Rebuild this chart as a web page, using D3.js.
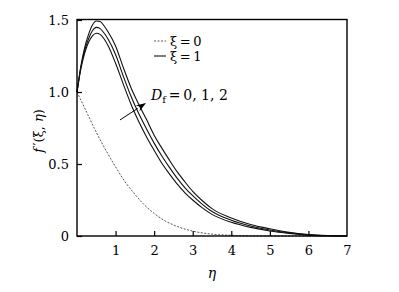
<!DOCTYPE html>
<html><head><meta charset="utf-8">
<script src="https://cdn.jsdelivr.net/npm/d3@7"></script>
<style>body{margin:0;background:#fff}svg{display:block}svg text{font-family:"DejaVu Serif","Liberation Serif","Times New Roman",serif;fill:#000}</style>
</head><body><svg id="c" width="399" height="292"></svg>
<script>
const eta = [0,0.1,0.2,0.3,0.4,0.5,0.6,0.7,0.8,1.0,1.2,1.4,1.6,1.8,2.0,2.2,2.4,2.6,2.8,3.0,3.25,3.5,4.0,4.5,5.0,5.5,6.0,6.5,7.0];
const xi1_Df0 = [1.0,1.16,1.27,1.345,1.39,1.408,1.40,1.37,1.325,1.20,1.055,0.915,0.795,0.69,0.595,0.505,0.43,0.36,0.30,0.25,0.195,0.15,0.095,0.06,0.035,0.018,0.006,0.002,0];
const xi1_Df1 = [1.0,1.17,1.29,1.37,1.425,1.449,1.44,1.41,1.37,1.26,1.11,0.97,0.85,0.745,0.645,0.555,0.475,0.40,0.335,0.28,0.22,0.17,0.11,0.07,0.042,0.022,0.008,0.002,0];
const xi1_Df2 = [1.0,1.18,1.31,1.40,1.465,1.493,1.49,1.46,1.42,1.32,1.17,1.03,0.915,0.81,0.70,0.61,0.525,0.445,0.375,0.31,0.245,0.19,0.125,0.08,0.05,0.025,0.01,0.003,0];
const etaXi0 = [0,0.25,0.5,0.75,1.0,1.25,1.5,1.75,2.0,2.25,2.5,2.75,3.0,3.5,4.0,4.5,5.0,6.0,7.0];
const xi0 = [1.0,0.86,0.72,0.595,0.48,0.375,0.29,0.215,0.157,0.11,0.077,0.052,0.034,0.013,0.005,0.0015,0.0005,0,0];
const xTicks = [1,2,3,4,5,6,7];
const yTicks = [0,0.5,1.0,1.5];
const yTickLabels = ["0","0.5","1.0","1.5"];
const legendLabels = ["\u03BE\u2009=\u20090","\u03BE\u2009=\u20091"];

const FONT = '"DejaVu Serif","Liberation Serif","Times New Roman",serif';
const svg = d3.select("#c");
const L=77, R=347, T=19.5, B=236;
const x = d3.scaleLinear().domain([0,7]).range([L,R]);
const y = d3.scaleLinear().domain([0,1.5]).range([B,20]);

const line = d3.line().x(d=>x(d[0])).y(d=>y(d[1])).curve(d3.curveMonotoneX);
const g = svg.append("g");
[xi1_Df0, xi1_Df1, xi1_Df2].forEach(s=>{
  g.append("path").attr("d", line(eta.map((e,i)=>[e,s[i]])))
   .attr("fill","none").attr("stroke","#111").attr("stroke-width",1.1);
});
g.append("path").attr("d", line(etaXi0.map((e,i)=>[e,xi0[i]])))
 .attr("fill","none").attr("stroke","#555").attr("stroke-width",1).attr("stroke-dasharray","2,1.5");

// frame
svg.append("rect").attr("x",L).attr("y",T).attr("width",R-L).attr("height",B-T)
  .attr("fill","none").attr("stroke","#000").attr("stroke-width",1.4);

// axes (ticks inward)
const xAxis = d3.axisBottom(x).tickValues(xTicks).tickSize(-5).tickPadding(10).tickFormat(d3.format("d"));
const xa = svg.append("g").attr("transform",`translate(0,${B})`).call(xAxis).attr("font-family",FONT);
xa.select(".domain").remove();
xa.selectAll("line").attr("stroke","#000").attr("stroke-width",1.2).filter(d=>d===7).remove();
xa.selectAll("text").attr("font-size",13).attr("dy","0.71em").style("font-family",FONT);

const yAxis = d3.axisLeft(y).tickValues(yTicks).tickSize(-5).tickPadding(8).tickFormat((d,i)=>yTickLabels[i]);
const ya = svg.append("g").attr("transform",`translate(${L},0)`).call(yAxis).attr("font-family",FONT);
ya.select(".domain").remove();
ya.selectAll("line").attr("stroke","#000").attr("stroke-width",1.2);
ya.selectAll("text").attr("font-size",13).style("font-family",FONT);

// axis labels
svg.append("text").attr("x",212).attr("y",278).attr("text-anchor","middle").style("font-family",FONT)
  .attr("font-size",14).attr("font-style","italic").text("\u03B7");
const yl = svg.append("text").attr("transform","translate(43,131) rotate(-90)").attr("text-anchor","middle").attr("font-size",13).style("font-family",FONT);
yl.append("tspan").attr("font-style","italic").text("f");
yl.append("tspan").text("\u2009\u2032(\u03BE, ");
yl.append("tspan").attr("font-style","italic").text("\u03B7");
yl.append("tspan").text(")");

// legend
const lg = svg.append("g");
lg.append("line").attr("x1",154).attr("x2",166).attr("y1",41).attr("y2",41)
  .attr("stroke","#555").attr("stroke-width",1).attr("stroke-dasharray","2,1.5");
lg.append("line").attr("x1",154).attr("x2",166).attr("y1",56).attr("y2",56)
  .attr("stroke","#111").attr("stroke-width",1.1);
legendLabels.forEach((t,i)=>{
  lg.append("text").attr("x",170).attr("y",46+i*15).attr("font-size",13).style("font-family",FONT).text(t);
});

// annotation arrow
const a0=[1.115,0.806], a1=[1.79,0.924];
const x0=x(a0[0]), y0=y(a0[1]), x1=x(a1[0]), y1=y(a1[1]);
const ang=Math.atan2(y1-y0,x1-x0), hl=10, hw=3.5;
const bx=x1-hl*Math.cos(ang), by=y1-hl*Math.sin(ang);
svg.append("line").attr("x1",x0).attr("y1",y0).attr("x2",bx).attr("y2",by).attr("stroke","#000").attr("stroke-width",1);
svg.append("path").attr("d",`M${x1},${y1}L${bx+hw*Math.sin(ang)},${by-hw*Math.cos(ang)}L${bx+3*Math.cos(ang)},${by+3*Math.sin(ang)}L${bx-hw*Math.sin(ang)},${by+hw*Math.cos(ang)}Z`).attr("fill","#000");
const at = svg.append("text").attr("x",151).attr("y",100).attr("font-size",14).style("font-family",FONT);
at.append("tspan").attr("font-style","italic").text("D");
at.append("tspan").attr("font-size",10).attr("dy",3).text("f");
at.append("tspan").attr("dy",-3).text("\u2009=\u20090, 1, 2");
</script></body></html>
